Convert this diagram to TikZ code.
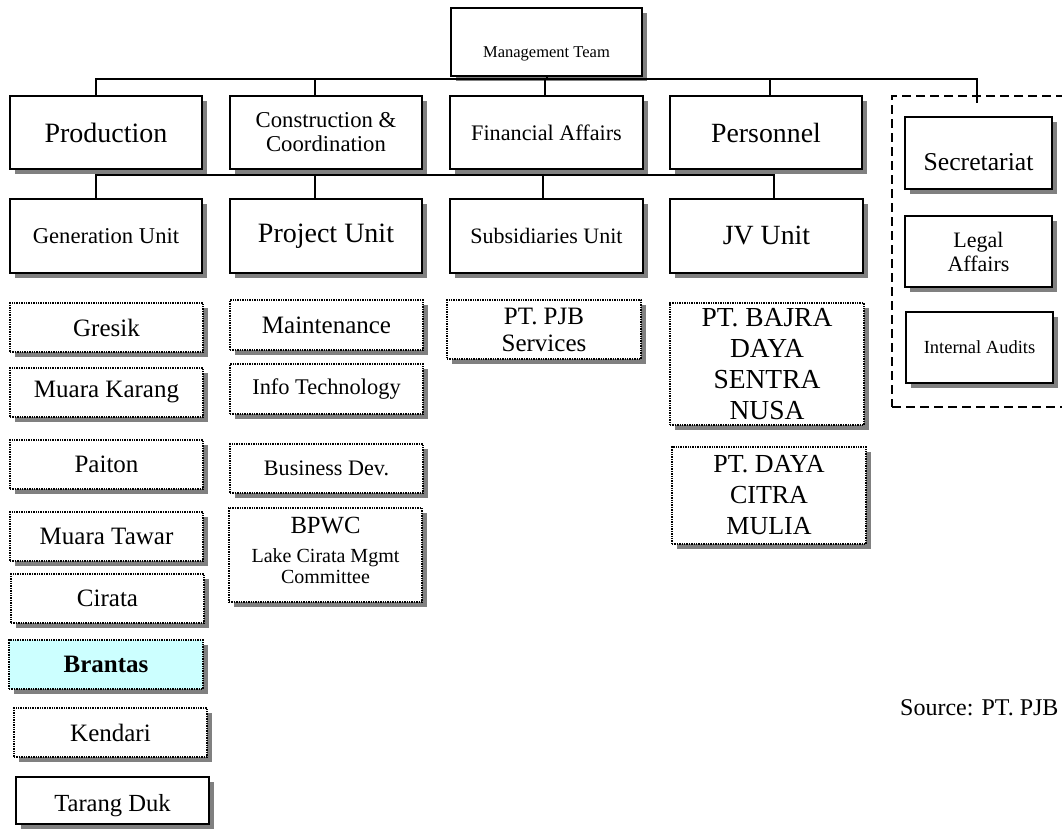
\documentclass[tikz,border=0pt]{standalone}
\usepackage{fontspec}
\setmainfont{Liberation Serif}
\usetikzlibrary{shadows}
\definecolor{shadowgray}{HTML}{808080}
\definecolor{brantasfill}{HTML}{CCFFFF}
\begin{document}
\begin{tikzpicture}[x=1pt,y=-1pt,
  shd/.style={drop shadow={shadow xshift=5pt,shadow yshift=-5pt,fill=shadowgray,opacity=1}},
  sbox/.style={draw=black,line width=2pt,fill=white,shd,inner sep=0pt,align=center},
  dbox/.style={draw=black,line width=1.6pt,dash pattern=on 1.4pt off 1pt,fill=white,shd,inner sep=0pt,align=center},
  fnt/.style 2 args={font=\fontsize{#1}{#2}\selectfont},
  wh/.style 2 args={minimum width=#1pt,minimum height=#2pt},
  conn/.style={draw=black,line width=2pt},
  grpbox/.style={draw=black,line width=2pt,dash pattern=on 9pt off 5pt,inner sep=0pt}]
\useasboundingbox (0,0) rectangle (1062,828);
\clip (0,0) rectangle (1062,828);

% top
\node[sbox,wh={191}{68}] (mgmt) at (546.5,42) {};
\node[fnt={16.5}{18},anchor=base] (mgmtt) at (546.5,57) {Management Team};

% row 1
\node[sbox,wh={192}{73},fnt={28}{30}] (prod) at (106,132.5) {Production};
\node[sbox,wh={192}{73},fnt={22.7}{24}] (cons) at (326,132.5) {Construction \&\\Coordination};
\node[sbox,wh={193}{73},fnt={22.2}{24}] (fin) at (546.5,132.5) {Financial Affairs};
\node[sbox,wh={192}{73},fnt={27.8}{30}] (pers) at (766,132.5) {Personnel};

% row 2
\node[sbox,wh={192}{74},fnt={22.6}{24}] (gen) at (106,236) {Generation Unit};
\node[sbox,wh={192}{74},fnt={28}{30}] (proj) at (326,236) {Project Unit};
\node[sbox,wh={193}{74},fnt={22}{24}] (subs) at (546.5,236) {Subsidiaries Unit};
\node[sbox,wh={193}{74},fnt={27.8}{30}] (jv) at (766.5,236) {JV Unit};

% staff group
\node[grpbox,wh={190}{311}] (grp) at (987,251.5) {};
\node[sbox,wh={147}{72}] (sec) at (978.5,153) {};
\node[fnt={25.7}{28},anchor=base] (sect) at (978.5,170) {Secretariat};
\node[sbox,wh={147}{71},fnt={22}{24}] (legal) at (978.5,251.5) {Legal\\Affairs};
\node[sbox,wh={147}{71},fnt={18.5}{20}] (audit) at (979.5,347.5) {Internal Audits};

% column 1
\node[dbox,wh={193}{49},fnt={25}{27}] (gresik) at (106.5,327.5) {Gresik};
\node[dbox,wh={193}{49},fnt={25}{27}] (karang) at (106.5,392.5) {Muara Karang};
\node[dbox,wh={193}{49},fnt={25}{27}] (paiton) at (106.5,464.5) {Paiton};
\node[dbox,wh={193}{49},fnt={25}{27}] (tawar) at (106.5,536.5) {Muara Tawar};
\node[dbox,wh={193}{49},fnt={25}{27}] (cirata) at (107.5,598.5) {Cirata};
\node[dbox,wh={194}{49},fnt={25}{27},fill=brantasfill] (brantas) at (106,664.5) {\bfseries Brantas};
\node[dbox,wh={193}{49},fnt={25}{27}] (kendari) at (110.5,732.5) {Kendari};
\node[sbox,wh={193}{47}] (tarang) at (112.5,800.5) {};
\node[fnt={24.6}{27},anchor=base] (tarangt) at (112.5,811) {Tarang Duk};

% column 2
\node[dbox,wh={193}{50},fnt={25}{27}] (maint) at (326.5,325) {Maintenance};
\node[dbox,wh={193}{50},fnt={22.4}{24}] (info) at (326.5,389) {Info Technology};
\node[dbox,wh={193}{49},fnt={22.1}{24}] (busdev) at (326.5,468.5) {Business Dev.};
\node[dbox,wh={193}{94}] (bpwc) at (325.5,555) {};
\node[fnt={24.7}{26},anchor=base] (bpwca) at (325.5,533) {BPWC};
\node[fnt={20}{21},anchor=base] (bpwcb) at (325.5,562) {Lake Cirata Mgmt};
\node[fnt={20}{21},anchor=base] (bpwcc) at (325.5,583) {Committee};

% column 3 and 4
\node[dbox,wh={194}{59},fnt={25}{27}] (pjb) at (544,329.5) {PT. PJB\\Services};
\node[dbox,wh={194}{122},fnt={27.5}{31}] (bajra) at (767,364) {PT. BAJRA\\DAYA\\SENTRA\\NUSA};
\node[dbox,wh={194}{97},fnt={26}{31}] (daya) at (769,495.5) {PT. DAYA\\CITRA\\MULIA};

% source
\node[fnt={24}{26},anchor=base west,inner sep=0pt] (src) at (900,715) {Source: PT. PJB};

% connectors
\coordinate (bus1) at (546.5,79);
\coordinate (secdrop) at (977,103);
\draw[conn] (mgmt.south) -- (bus1);
\draw[conn] ([xshift=-10pt]prod.north) |- (bus1) -| (secdrop);
\draw[conn] ([xshift=-11pt]cons.north) -- ([xshift=-11pt]cons.north |- bus1);
\draw[conn] ([xshift=-1.5pt]fin.north) -- ([xshift=-1.5pt]fin.north |- bus1);
\draw[conn] ([xshift=4pt]pers.north) -- ([xshift=4pt]pers.north |- bus1);

\coordinate (bus2) at (546.5,175);
\draw[conn] ([xshift=-10pt]gen.north) |- ([xshift=7.5pt]jv.north |- bus2) -- ([xshift=7.5pt]jv.north);
\draw[conn] ([xshift=-11pt]proj.north) -- ([xshift=-11pt]proj.north |- bus2);
\draw[conn] ([xshift=-3.5pt]subs.north) -- ([xshift=-3.5pt]subs.north |- bus2);
\end{tikzpicture}
\end{document}
